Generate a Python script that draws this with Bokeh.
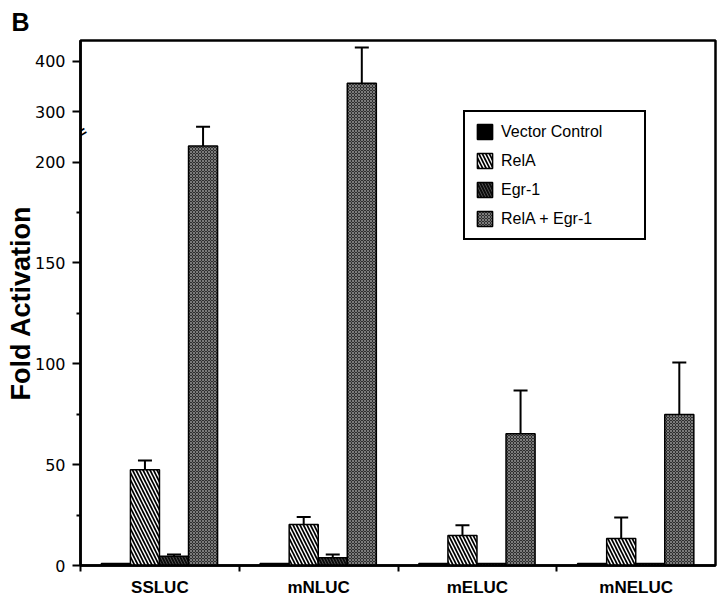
import math
from bokeh.plotting import figure
from bokeh.models import (ColumnDataSource, Range1d, LinearAxis, FixedTicker,
                          Whisker, TeeHead, Legend, LegendItem, Label)
from bokeh.transform import dodge
from bokeh.embed import file_html
from bokeh.resources import INLINE

# ---------------- data ----------------
categories = ["SSLUC", "mNLUC", "mELUC", "mNELUC"]
series = ["Vector Control", "RelA", "Egr-1", "RelA + Egr-1"]
vector_ctrl = [1.0, 1.0, 1.0, 1.0]
vector_err = [0.0, 0.0, 0.0, 0.0]
rela = [47.5, 20.3, 14.9, 13.4]
rela_err = [4.5, 3.7, 5.1, 10.4]
egr1 = [4.6, 3.8, 1.0, 1.0]
egr1_err = [0.8, 1.6, 0.0, 0.0]
rela_egr1 = [232.0, 356.0, 65.3, 74.8]
rela_egr1_err = [38.0, 71.0, 21.5, 25.8]
y_tick_values = [0, 50, 100, 150, 200, 300, 400]
y_minor_values = [25, 75, 125, 175]
y_top_value = 441
y_break_value = 260

values = [vector_ctrl, rela, egr1, rela_egr1]
errors = [vector_err, rela_err, egr1_err, rela_egr1_err]


def brk(v):
    """Broken value axis: above 200 the scale is compressed 4x."""
    return v if v <= 200 else 200 + (v - 200) * 0.25


# category slot centres (one unit per category, like a FactorRange)
cat_pos = [i + 0.5 for i in range(len(categories))]

# ---------------- styles ----------------
FONT = "Liberation Sans"
offsets = [-0.277, -0.094, 0.089, 0.272]
bar_w = 0.183
styles = [
    dict(fill_color="black"),
    dict(fill_color="white", hatch_pattern="left_diagonal_line", hatch_color="black",
         hatch_weight=1.7, hatch_scale=7),
    dict(fill_color="#0c0c0c", hatch_pattern="left_diagonal_line", hatch_color="#7a7a7a",
         hatch_weight=0.6, hatch_scale=6),
    dict(fill_color="#2e2e2e", hatch_pattern="diagonal_cross", hatch_color="#858585",
         hatch_weight=0.9, hatch_scale=3),
]

p = figure(width=720, height=599,
           x_range=Range1d(0, len(categories)),
           y_range=Range1d(0, brk(y_top_value)),
           output_backend="svg", toolbar_location=None,
           x_axis_location=None, y_axis_location=None,
           min_border_left=80, min_border_right=5, min_border_top=40, min_border_bottom=33,
           background_fill_color="white", border_fill_color="white")
for g in p.grid:
    g.visible = False
p.outline_line_color = "black"
p.outline_line_width = 2.5
p.outline_line_alpha = 1

# panel letter
p.title.text = "B"
p.title.align = "left"
p.title.offset = -69
p.title.standoff = 10
p.title.text_font = FONT
p.title.text_font_style = "bold"
p.title.text_font_size = "25px"
p.title.text_color = "black"

# ---------------- axes ----------------
yaxis = LinearAxis(ticker=FixedTicker(ticks=[brk(v) for v in y_tick_values],
                                      minor_ticks=[brk(v) for v in y_minor_values]))
yaxis.major_label_overrides = {brk(v): str(v) for v in y_tick_values}
yaxis.axis_line_width = 2.5
yaxis.major_tick_line_width = 2
yaxis.minor_tick_line_width = 2
yaxis.major_tick_out = 8
yaxis.major_tick_in = 0
yaxis.minor_tick_out = 4
yaxis.minor_tick_in = 0
yaxis.major_label_standoff = 7
yaxis.major_label_text_font = "DejaVu Sans"
yaxis.major_label_text_font_size = "16px"
yaxis.major_label_text_color = "black"
yaxis.axis_label = "Fold Activation"
yaxis.axis_label_standoff = -4
yaxis.axis_label_text_font = FONT
yaxis.axis_label_text_font_style = "bold"
yaxis.axis_label_text_font_size = "27px"
yaxis.axis_label_text_color = "black"
p.add_layout(yaxis, "left")

xaxis = LinearAxis(ticker=FixedTicker(ticks=cat_pos,
                                      minor_ticks=list(range(len(categories)))))
xaxis.major_label_overrides = {x: c for x, c in zip(cat_pos, categories)}
xaxis.axis_line_width = 2.5
xaxis.major_tick_line_color = None
xaxis.major_tick_out = 0
xaxis.major_tick_in = 0
xaxis.minor_tick_line_width = 2
xaxis.minor_tick_out = 6
xaxis.minor_tick_in = 0
xaxis.major_label_standoff = 6
xaxis.major_label_text_font = FONT
xaxis.major_label_text_font_style = "bold"
xaxis.major_label_text_font_size = "17px"
xaxis.major_label_text_color = "black"
p.add_layout(xaxis, "below")

# ---------------- bars + error bars ----------------
items = []
for name, vals, errs, off, st in zip(series, values, errors, offsets, styles):
    src = ColumnDataSource(dict(x=cat_pos, cat=categories, top=[brk(v) for v in vals]))
    r = p.vbar(x=dodge("x", off), top="top", bottom=0, width=bar_w,
               source=src, line_color="black", line_width=1.5, **st)
    items.append(LegendItem(label=name, renderers=[r]))
    idx = [i for i, e in enumerate(errs) if e > 0]
    if idx:
        esrc = ColumnDataSource(dict(
            x=[cat_pos[i] for i in idx],
            lo=[brk(vals[i]) for i in idx],
            hi=[brk(vals[i] + errs[i]) for i in idx]))
        w = Whisker(base=dodge("x", off), lower="lo", upper="hi",
                    source=esrc, dimension="height", line_width=2, line_color="black",
                    upper_head=TeeHead(size=14, line_width=2, line_color="black"),
                    lower_head=None)
        p.add_layout(w)

# ---------------- legend ----------------
legend = Legend(items=items, location=(383, 325), margin=0, padding=10, spacing=10,
                glyph_width=19, glyph_height=19, label_height=19, label_standoff=7,
                label_width=133, border_line_color="black", border_line_width=2.5,
                border_line_alpha=1,
                background_fill_color="white", background_fill_alpha=1,
                label_text_font=FONT, label_text_font_size="16px", label_text_color="black")
p.add_layout(legend, "center")

# axis-break mark on the value axis
p.add_layout(Label(x=0.008, y=brk(y_break_value), text="=", angle=0.55,
                   text_align="center", text_baseline="middle",
                   text_font=FONT, text_font_style="bold", text_font_size="15px",
                   text_color="black"))

open("out.html", "w").write(file_html(p, INLINE))
